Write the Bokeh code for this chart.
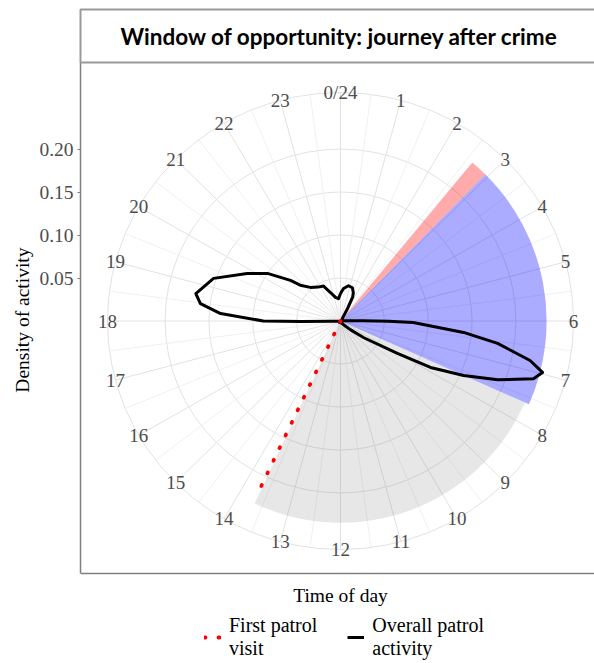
import numpy as np
from bokeh.plotting import figure
from bokeh.models import (LinearAxis, FixedTicker, PrintfTickFormatter, Legend,
                          LegendItem, Range1d, ColumnDataSource, Title, Span, Label)
from bokeh.core.properties import value
from bokeh.embed import file_html
from bokeh.resources import INLINE

# ---------------- data ----------------
title_text = "Window of opportunity: journey after crime"
x_title = "Time of day"
y_title = "Density of activity"

hour_ticks = list(range(24))
hour_labels = ["0/24"] + [str(h) for h in range(1, 24)]
minor_hour_ticks = [h + 0.5 for h in range(24)]
radial_ticks = [0.05, 0.10, 0.15, 0.20]
radial_outer = 0.2657

# overall patrol activity: hour of day vs density
activity_hour = [0.0, 0.35, 0.83, 1.29, 1.6, 1.77, 1.93, 2.1, 2.5, 3.5, 4.5, 5.5,
                 5.85, 5.95, 6.02, 6.08, 6.36, 6.55, 6.8, 6.97, 7.13, 7.39, 7.62,
                 7.85, 8.01, 8.41, 8.8, 9.3, 10.0, 11.0, 12.0, 13.0, 14.0, 15.0,
                 16.0, 17.0, 17.5, 17.85, 17.95, 18.0, 18.24, 18.48, 18.73, 19.26,
                 19.83, 20.24, 20.64, 20.81, 21.25, 21.8, 22.3, 22.73, 23.21, 23.67,
                 24.0]
activity_density = [0.032, 0.038, 0.042, 0.041, 0.036, 0.031, 0.017, 0.006, 0.003,
                    0.002, 0.002, 0.002, 0.005, 0.025, 0.055, 0.083, 0.141, 0.181,
                    0.221, 0.238, 0.230, 0.192, 0.154, 0.116, 0.075, 0.033, 0.015,
                    0.006, 0.003, 0.002, 0.002, 0.002, 0.002, 0.002, 0.002, 0.002,
                    0.002, 0.010, 0.045, 0.088, 0.137, 0.161, 0.168, 0.153, 0.120,
                    0.100, 0.074, 0.062, 0.052, 0.047, 0.045, 0.035, 0.028, 0.026,
                    0.032]

# first patrol visit (dotted ray)
first_patrol_hour = [13.68, 13.68]
first_patrol_density = [0.0, 0.222]

# shaded windows (start hour, end hour, radius)
window_start = [2.65, 2.98, 7.59]
window_end = [2.98, 7.59, 13.68]
window_radius = [0.235, 0.235, 0.230]
window_color = ["#ff0000", "#0000ff", "#808080"]
window_alpha = [0.33, 0.33, 0.19]

# ---------------- helpers ----------------
def to_xy(h, r):
    t = np.asarray(h, float) * np.pi / 12.0
    r = np.asarray(r, float)
    return r * np.sin(t), r * np.cos(t)

def screen_angle(h):
    return np.pi / 2 - np.asarray(h, float) * np.pi / 12.0

SERIF = "Liberation Serif"
FW, FH = 514, 601           # frame reaches the bottom of the page
PANEL_H = 511               # height of the bordered panel inside the frame
SX, SY = 877.0, 860.0       # px per density unit
CX, CY = 260.0, 258.5       # centre offset inside the frame (px)
y_panel_bottom = -(PANEL_H - CY) / SY
y_xlabel = -(PANEL_H - CY + 22) / SY

p = figure(frame_width=FW, frame_height=FH,
           x_range=Range1d(-CX / SX, (FW - CX) / SX),
           y_range=Range1d(-(FH - CY) / SY, CY / SY),
           x_axis_type=None, y_axis_type=None,
           toolbar_location=None, output_backend="svg",
           min_border_left=80, min_border_right=0, min_border_top=62,
           min_border_bottom=0, outline_line_color=None,
           background_fill_color="white", border_fill_color="white")

p.title = Title(text=title_text, text_font="Lato", text_font_style="bold",
                text_font_size="22.5px", text_color="black", align="left",
                offset=0, standoff=0, border_line_color="#9a9a9a",
                border_line_width=2, background_fill_color="white",
                padding=(40, 13))

# ---------------- grid ----------------
grid_r = radial_ticks + [radial_outer]
p.ellipse(x=0, y=0, width=[2 * r for r in grid_r], height=[2 * r for r in grid_r],
          fill_color=None, line_color="#e2e2e2", line_width=1)
mx, my = to_xy(hour_ticks, [radial_outer] * 24)
p.segment(x0=0, y0=0, x1=mx, y1=my, line_color="#e2e2e2", line_width=1)
nx, ny = to_xy(minor_hour_ticks, [radial_outer] * 24)
p.segment(x0=0, y0=0, x1=nx, y1=ny, line_color="#ececec", line_width=0.8)

# ---------------- windows ----------------
wsrc = ColumnDataSource(dict(start=screen_angle(window_start),
                             end=screen_angle(window_end),
                             radius=window_radius, color=window_color,
                             alpha=window_alpha))
p.wedge(x=0, y=0, radius="radius", start_angle="start", end_angle="end",
        direction="clock", fill_color="color", fill_alpha="alpha",
        line_color=None, source=wsrc)

# ---------------- curves ----------------
ax, ay = to_xy(activity_hour, activity_density)
black_r = p.line(ax, ay, line_color="black", line_width=3, line_join="round")

fx, fy = to_xy(first_patrol_hour, first_patrol_density)
red_r = p.line(fx, fy, line_color="#ff0000", line_width=3.8, line_dash="1 13",
               line_cap="round")

# ---------------- hour labels ----------------
lx, ly = to_xy(hour_ticks, [radial_outer] * 24)
p.text(x=lx, y=ly, text=hour_labels, text_align="center", text_baseline="middle",
       text_font=value(SERIF), text_font_size=value("19px"), text_color="#4d4d4d")

# ---------------- axes / panel border ----------------
yax = LinearAxis(ticker=FixedTicker(ticks=radial_ticks),
                 formatter=PrintfTickFormatter(format="%.2f"),
                 bounds=(y_panel_bottom, CY / SY),
                 major_label_text_font=SERIF, major_label_text_font_size="19.5px",
                 major_label_text_color="#4d4d4d", major_tick_out=3, major_tick_in=0,
                 minor_tick_out=0, minor_tick_in=0, major_label_standoff=4,
                 axis_line_color="#7f7f7f",
                 major_tick_line_color="#7f7f7f", axis_line_width=1.5)
p.add_layout(yax, "left")

# y-axis title, centred on the bordered panel (not on the taller frame)
p.add_layout(Title(text=y_title, align="right", offset=185, standoff=8,
                   text_font=SERIF, text_font_style="normal",
                   text_font_size="19.5px", text_color="black"), "left")

p.add_layout(Span(location=y_panel_bottom, dimension="width",
                  line_color="#7f7f7f", line_width=1.5))
p.add_layout(Label(x=0, y=y_xlabel, text=x_title, text_align="center",
                   text_baseline="middle", text_font=SERIF,
                   text_font_size="19.5px", text_color="black"))

legend = Legend(items=[LegendItem(label="First patrol\nvisit", renderers=[red_r]),
                       LegendItem(label="Overall patrol\nactivity", renderers=[black_r])],
                orientation="horizontal", location=(124, 3),
                label_text_font=SERIF, label_text_font_size="20px",
                label_text_line_height=0.95, label_text_color="black",
                glyph_width=17, glyph_height=20, label_standoff=8, spacing=30,
                padding=0, margin=0, border_line_color=None,
                background_fill_alpha=0)
p.add_layout(legend, "center")

open("out.html", "w").write(file_html(p, INLINE))
